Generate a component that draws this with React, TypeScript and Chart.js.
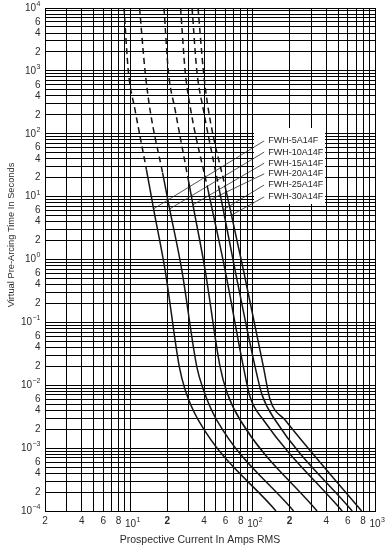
import React, { useEffect, useRef } from 'react';
import { Chart, registerables } from 'chart.js';

Chart.register(...registerables);

const FONT = '"Liberation Sans", Arial, Helvetica, sans-serif';

const CURVE_NAMES = ['FWH-5A14F', 'FWH-10A14F', 'FWH-15A14F', 'FWH-20A14F', 'FWH-25A14F', 'FWH-30A14F'];

// Prospective current (A) and pre-arcing time (s)
const AMPS_5A = [8.86, 9.6, 10.9, 13.5, 15.45, 19.2, 25.1, 28.0, 35.9, 155];
const SECS_5A = [10000, 1000, 240, 27, 6.4, 0.68, 0.0196, 0.0085, 0.0028, 0.0001];

const AMPS_10A = [11.87, 13.16, 14.46, 18.3, 20.9, 26.3, 34.9, 39.5, 50.8, 216];
const SECS_10A = [10000, 1000, 240, 24, 6.4, 0.68, 0.0196, 0.0085, 0.0028, 0.0001];

const AMPS_15A = [18.8, 20.4, 23.2, 29.5, 32.9, 40.8, 54.1, 61.7, 78.9, 336];
const SECS_15A = [10000, 1000, 240, 20, 6.4, 0.68, 0.0196, 0.0076, 0.0028, 0.0001];

const AMPS_20A = [25.7, 28.0, 31.1, 43.1, 46.5, 59.4, 83.9, 95.2, 122.3, 539];
const SECS_20A = [10000, 1000, 240, 12.8, 6.4, 0.68, 0.0196, 0.0065, 0.0028, 0.0001];

const AMPS_25A = [31.9, 34.9, 39.5, 53.3, 57.2, 71.7, 104.6, 119.3, 152.5, 651];
const SECS_25A = [10000, 1000, 240, 12.8, 6.4, 0.68, 0.0196, 0.007, 0.0028, 0.0001];

const AMPS_30A = [35.7, 39.5, 43.4, 60.3, 65.3, 83.9, 122.3, 138.8, 184.1, 778];
const SECS_30A = [10000, 1000, 240, 12.8, 6.4, 0.68, 0.0196, 0.0059, 0.0028, 0.0001];

const CURVE_AMPS = [AMPS_5A, AMPS_10A, AMPS_15A, AMPS_20A, AMPS_25A, AMPS_30A];
const CURVE_SECS = [SECS_5A, SECS_10A, SECS_15A, SECS_20A, SECS_25A, SECS_30A];
// curves are dashed from the top down to this time (s)
const DASHED_DOWN_TO = [27, 24, 20, 12.8, 12.8, 12.8];

// callout labels and their leader lines
const LABEL_AMPS = 134;
const LABEL_SECS = [77, 51, 34, 23, 15.3, 9.9];
const LEADER_START_AMPS = 124;
const LEADER_END_AMPS = [15.45, 21.0, 32.4, 44.9, 57.2, 67.4];
const LEADER_END_SECS = [6.4, 6.4, 7.4, 8.9, 6.15, 5.1];

// white panel behind the callouts
const BOX_AMPS = [100, 400];
const BOX_SECS = [7.5, 125];

const X_MIN = 2;
const X_MAX = 1000;
const Y_MIN = 0.0001;
const Y_MAX = 10000;

const X_LABEL_VALUES = [2, 4, 6, 8, 10, 20, 40, 60, 80, 100, 200, 400, 600, 800, 1000];
const X_LABEL_TEXTS = ['2', '4', '6', '8', '10^1', '2', '4', '6', '8', '10^2', '2', '4', '6', '8', '10^3'];
const X_LABEL_BOLD = [false, false, false, false, false, true, false, false, false, false, true, false, false, false, false];

const Y_LABEL_VALUES = [
  10000, 6000, 4000, 2000, 1000, 600, 400, 200, 100, 60, 40, 20, 10, 6, 4, 2, 1,
  0.6, 0.4, 0.2, 0.1, 0.06, 0.04, 0.02, 0.01, 0.006, 0.004, 0.002, 0.001,
  0.0006, 0.0004, 0.0002, 0.0001,
];
const Y_LABEL_TEXTS = [
  '10^4', '6', '4', '2', '10^3', '6', '4', '2', '10^2', '6', '4', '2', '10^1', '6', '4', '2', '10^0',
  '6', '4', '2', '10^-1', '6', '4', '2', '10^-2', '6', '4', '2', '10^-3',
  '6', '4', '2', '10^-4',
];

const X_TITLE = 'Prospective Current In Amps RMS';
const Y_TITLE = 'Virtual Pre-Arcing Time In Seconds';

const MULTIPLIERS = [1, 2, 3, 4, 5, 6, 7, 8, 9];
const X_DECADES = [1, 10, 100];
const Y_DECADES = [0.0001, 0.001, 0.01, 0.1, 1, 10, 100, 1000];

const X_GRID: number[] = [];
X_DECADES.forEach((d) => MULTIPLIERS.forEach((m) => {
  const v = +(m * d).toPrecision(6);
  if (v >= X_MIN && v <= X_MAX) X_GRID.push(v);
}));
X_GRID.push(X_MAX);
const Y_GRID: number[] = [];
Y_DECADES.forEach((d) => MULTIPLIERS.forEach((m) => Y_GRID.push(+(m * d).toPrecision(6))));
Y_GRID.push(Y_MAX);

const TEXT_COLOR = '#2b2b2b';

function drawTickLabel(
  ctx: CanvasRenderingContext2D,
  text: string,
  px: number,
  py: number,
  align: 'right' | 'center',
  bold: boolean,
  powOffsetY: number,
) {
  ctx.fillStyle = TEXT_COLOR;
  ctx.textBaseline = 'middle';
  if (text.startsWith('10^')) {
    const exp = text.slice(3).replace('-', '\u2212');
    ctx.font = `10px ${FONT}`;
    const wb = ctx.measureText('10').width;
    ctx.font = `7px ${FONT}`;
    const we = ctx.measureText(exp).width;
    const left = align === 'right' ? px - wb - we - 0.5 : px - wb / 2;
    ctx.textAlign = 'left';
    ctx.font = `10px ${FONT}`;
    ctx.fillText('10', left, py + powOffsetY);
    ctx.font = `7px ${FONT}`;
    ctx.fillText(exp, left + wb + 0.5, py + powOffsetY - 4);
  } else {
    ctx.font = `${bold ? 'bold ' : ''}10px ${FONT}`;
    ctx.textAlign = align;
    ctx.fillText(text, px, py);
  }
}

const overlayPlugin = {
  id: 'fuseOverlay',
  beforeDatasetsDraw(chart: any) {
    const { ctx } = chart;
    const x = chart.scales.x;
    const y = chart.scales.y;
    ctx.save();
    // white panel behind labels
    const x1 = Math.round(x.getPixelForValue(BOX_AMPS[0])) + 1;
    const x2 = Math.round(x.getPixelForValue(BOX_AMPS[1])) - 1;
    const y1 = Math.round(y.getPixelForValue(BOX_SECS[1]));
    const y2 = Math.round(y.getPixelForValue(BOX_SECS[0]));
    ctx.fillStyle = '#ffffff';
    ctx.fillRect(x1, y1, x2 - x1, y2 - y1);
    // callout labels
    ctx.fillStyle = '#1e1e1e';
    ctx.font = `9px ${FONT}`;
    ctx.textAlign = 'left';
    ctx.textBaseline = 'middle';
    const lx = x.getPixelForValue(LABEL_AMPS);
    CURVE_NAMES.forEach((name, i) => {
      ctx.fillText(name, lx, y.getPixelForValue(LABEL_SECS[i]));
    });
    ctx.restore();
  },
  afterDraw(chart: any) {
    const { ctx, chartArea } = chart;
    const x = chart.scales.x;
    const y = chart.scales.y;
    ctx.save();
    // y tick labels
    Y_LABEL_VALUES.forEach((v, i) => {
      drawTickLabel(ctx, Y_LABEL_TEXTS[i], chartArea.left - 4.5, y.getPixelForValue(v), 'right', false, 0);
    });
    // x tick labels
    X_LABEL_VALUES.forEach((v, i) => {
      drawTickLabel(ctx, X_LABEL_TEXTS[i], x.getPixelForValue(v), chartArea.bottom + 10, 'center', X_LABEL_BOLD[i], 3);
    });
    // axis titles
    ctx.fillStyle = TEXT_COLOR;
    ctx.font = `10.5px ${FONT}`;
    ctx.textAlign = 'center';
    ctx.textBaseline = 'middle';
    ctx.fillText(X_TITLE, 200, chartArea.bottom + 29);
    ctx.font = `9.3px ${FONT}`;
    ctx.translate(11, 235);
    ctx.rotate(-Math.PI / 2);
    ctx.fillText(Y_TITLE, 0, 0);
    ctx.restore();
  },
};

export default function App() {
  const canvasRef = useRef<HTMLCanvasElement | null>(null);

  useEffect(() => {
    document.body.style.margin = '0';
    const canvas = canvasRef.current;
    if (!canvas) return;

    const curveSets = CURVE_NAMES.map((name, i) => {
      const limit = DASHED_DOWN_TO[i];
      return {
        label: name,
        data: CURVE_AMPS[i].map((a, j) => ({ x: a, y: CURVE_SECS[i][j] })),
        borderColor: '#151515',
        borderWidth: 1.5,
        pointRadius: 0,
        fill: false,
        cubicInterpolationMode: 'monotone' as const,
        segment: {
          borderDash: (ctx: any) => (ctx.p1.parsed.y >= limit * 0.999 ? [6, 4] : undefined),
        },
      };
    });

    const leaderSets = CURVE_NAMES.map((name, i) => ({
      label: name + ' leader',
      data: [
        { x: LEADER_START_AMPS, y: LABEL_SECS[i] },
        { x: LEADER_END_AMPS[i], y: LEADER_END_SECS[i] },
      ],
      borderColor: '#2a2a2a',
      borderWidth: 0.8,
      pointRadius: 0,
      fill: false,
    }));

    const axisCommon = {
      type: 'logarithmic' as const,
      ticks: { display: false },
      grid: { color: '#000000', lineWidth: 1, drawTicks: false },
      border: { display: true, color: '#000000', width: 1 },
    };

    const chart = new Chart(canvas, {
      type: 'line',
      data: { datasets: [...curveSets, ...leaderSets] as any },
      options: {
        responsive: false,
        animation: false,
        events: [],
        layout: { padding: { left: 45, top: 8, right: 16, bottom: 34 } },
        plugins: { legend: { display: false }, tooltip: { enabled: false } },
        scales: {
          x: {
            ...axisCommon,
            min: X_MIN,
            max: X_MAX,
            afterBuildTicks: (s: any) => {
              s.ticks = X_GRID.map((v) => ({ value: v }));
            },
          },
          y: {
            ...axisCommon,
            min: Y_MIN,
            max: Y_MAX,
            afterBuildTicks: (s: any) => {
              s.ticks = Y_GRID.map((v) => ({ value: v }));
            },
          },
        },
      } as any,
      plugins: [overlayPlugin],
    });

    return () => chart.destroy();
  }, []);

  return (
    <div style={{ width: 391, height: 545, background: '#ffffff' }}>
      <canvas ref={canvasRef} width={391} height={545} style={{ display: 'block' }} />
    </div>
  );
}
